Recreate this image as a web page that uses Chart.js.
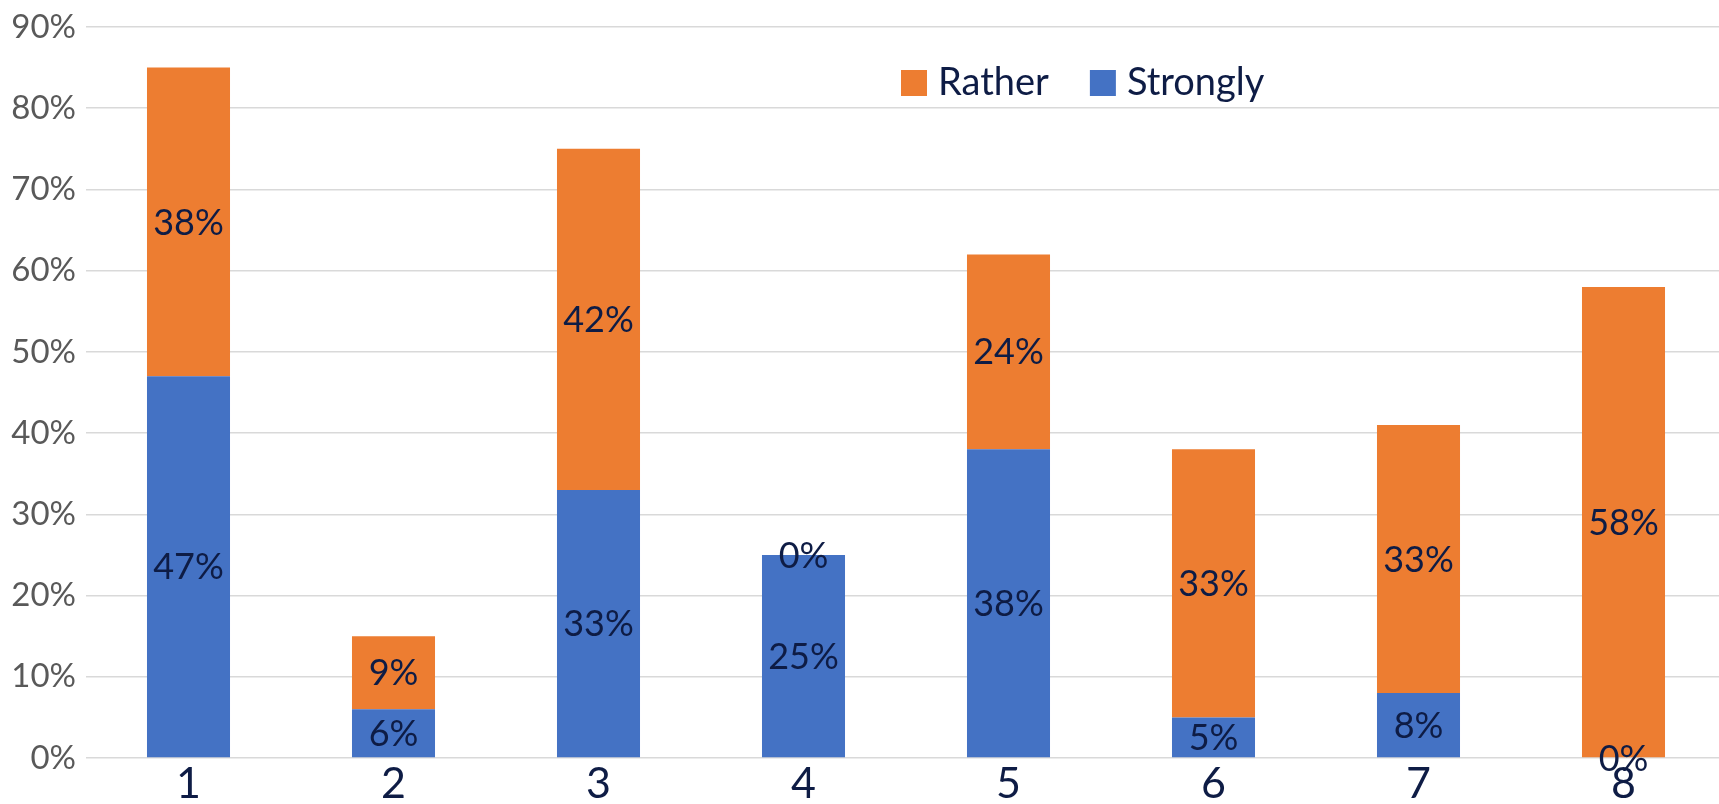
<!DOCTYPE html>
<html>
<head>
<meta charset="utf-8">
<script src="https://cdn.jsdelivr.net/npm/chart.js@4.4.1/dist/chart.umd.min.js"></script>
<style>
  html, body { margin: 0; padding: 0; background: #ffffff; overflow: hidden; }
  #wrap { position: relative; width: 1726px; height: 804px; }
</style>
</head>
<body>
<div id="wrap"><canvas id="chart"></canvas></div>
<script>
// Categories and the two stacked series (percent values)
const categories = ['1', '2', '3', '4', '5', '6', '7', '8'];
const strongly = [47, 6, 33, 25, 38, 5, 8, 0];
const rather = [38, 9, 42, 0, 24, 33, 33, 58];
const yTicks = [0, 10, 20, 30, 40, 50, 60, 70, 80, 90];

const BLUE = '#4472C4';
const ORANGE = '#ED7D31';
const NAVY = '#0E1C45';
const GREY_TEXT = '#595959';
const GRID = '#D9D9D9';
const FONT = 'Lato, "Open Sans", sans-serif';

// Value labels centred in each stacked segment
const segmentLabels = {
  id: 'segmentLabels',
  afterDatasetsDraw(chart) {
    const ctx = chart.ctx;
    ctx.save();
    ctx.font = '36px ' + FONT;
    ctx.fillStyle = NAVY;
    ctx.textAlign = 'center';
    ctx.textBaseline = 'middle';
    chart.data.datasets.forEach((ds, di) => {
      const meta = chart.getDatasetMeta(di);
      meta.data.forEach((el, i) => {
        const props = el.getProps(['x', 'y', 'base'], true);
        const cy = (props.y + props.base) / 2;
        ctx.fillText(ds.data[i] + '%', props.x, cy + 1);
      });
    });
    ctx.restore();
  }
};

// Legend drawn inside the plot area, series listed top stack first
const innerLegend = {
  id: 'innerLegend',
  afterDraw(chart) {
    const ctx = chart.ctx;
    const area = chart.chartArea;
    ctx.save();
    ctx.font = '38px ' + FONT;
    ctx.textBaseline = 'middle';
    ctx.textAlign = 'left';
    let x = area.left + 815;
    const cy = 83;
    const box = 26;
    const items = chart.data.datasets.slice().reverse();
    items.forEach((ds) => {
      ctx.fillStyle = ds.backgroundColor;
      ctx.fillRect(x, cy - box / 2, box, box);
      x += box + 11;
      ctx.fillStyle = NAVY;
      ctx.fillText(ds.label, x, cy);
      x += ctx.measureText(ds.label).width + 41;
    });
    ctx.restore();
  }
};

function build() {
  new Chart(document.getElementById('chart'), {
    type: 'bar',
    data: {
      labels: categories,
      datasets: [
        { label: 'Strongly', data: strongly, backgroundColor: BLUE,
          barPercentage: 0.405, categoryPercentage: 1.0 },
        { label: 'Rather', data: rather, backgroundColor: ORANGE,
          barPercentage: 0.405, categoryPercentage: 1.0 }
      ]
    },
    options: {
      responsive: true,
      maintainAspectRatio: false,
      animation: false,
      layout: { padding: { top: 27, right: 0, left: 0, bottom: 0 } },
      plugins: {
        legend: { display: false },
        tooltip: { enabled: false }
      },
      scales: {
        x: {
          stacked: true,
          grid: { display: false, drawTicks: false },
          border: { display: false },
          ticks: {
            color: NAVY,
            font: { family: FONT, size: 43 },
            padding: 0
          },
          afterFit(scale) { scale.height = 46; }
        },
        y: {
          stacked: true,
          min: 0,
          max: 90,
          afterBuildTicks(scale) { scale.ticks = yTicks.map(v => ({ value: v })); },
          grid: { color: GRID, lineWidth: 1.6, drawTicks: false },
          border: { display: false },
          ticks: {
            color: GREY_TEXT,
            font: { family: FONT, size: 33, lineHeight: 1.0 },
            padding: 10,
            callback: (v) => v + '%'
          },
          afterFit(scale) { scale.width = 86; }
        }
      }
    },
    plugins: [segmentLabels, innerLegend]
  });
}

if (document.fonts && document.fonts.load) {
  Promise.all([
    document.fonts.load('36px Lato'),
    document.fonts.load('43px Lato')
  ]).then(build, build);
} else {
  build();
}
</script>
</body>
</html>
